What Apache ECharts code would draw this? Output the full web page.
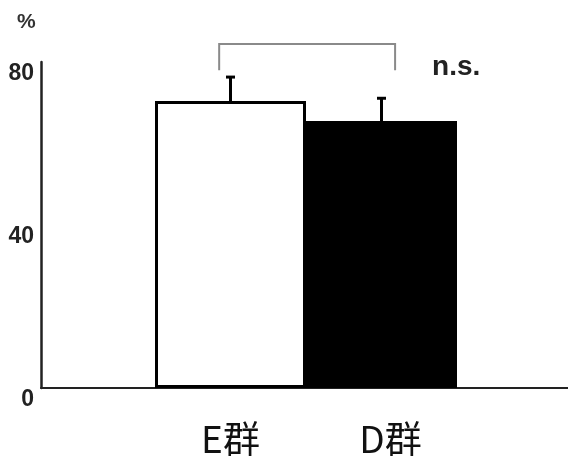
<!DOCTYPE html>
<html>
<head>
<meta charset="utf-8">
<style>
  html, body { margin: 0; padding: 0; background: #fff; }
  #chart { width: 568px; height: 466px; }
</style>
<script src="https://cdn.jsdelivr.net/npm/echarts@6/dist/echarts.min.js"></script>
</head>
<body>
<div id="chart"></div>
<script>
// Group labels and their mean values (%) with error (SD)
const categories = ['E群', 'D群'];
const means = [70.4, 65.5];
const errors = [5.9, 5.6];
const barFills = ['#ffffff', '#000000'];

// Y axis scale
const yMin = 0;
const yMax = 80;
const yInterval = 40;

// Significance bracket: top height and leg end height, with its label
const bracketTop = 84.4;
const bracketLegEnd = 78;
const sigText = 'n.s.';

const chart = echarts.init(document.getElementById('chart'), null, { renderer: 'canvas' });

const ink = '#111';
const latin = '"Liberation Sans", Arial, sans-serif';
const cjk = '"Noto Sans CJK JP", "Noto Sans CJK SC", sans-serif';

// per-label nudges for the category names
const labelPads = [[0, 0, 0, 0], [0, 0, 0, 18]];

const option = {
  backgroundColor: '#ffffff',
  animation: false,
  title: {
    text: '%',
    left: 12,
    top: 7,
    textStyle: { fontSize: 21, fontWeight: 'bold', color: '#333', fontFamily: latin }
  },
  grid: [
    // frame: y axis and full-width baseline
    { left: 41, right: 0, top: 62, bottom: 78 },
    // bar area
    { left: 155, right: 111, top: 62, bottom: 78 }
  ],
  xAxis: [
    {
      type: 'value', gridIndex: 0, min: 0, max: 1,
      axisLine: { show: true, lineStyle: { color: '#222', width: 2 } },
      axisTick: { show: false }, axisLabel: { show: false }, splitLine: { show: false }
    },
    {
      type: 'category', gridIndex: 1,
      data: categories.map((c, i) => ({ value: c, textStyle: { padding: labelPads[i] } })),
      axisLine: { show: false }, axisTick: { show: false }, splitLine: { show: false },
      axisLabel: { fontSize: 37, color: ink, fontFamily: cjk, margin: 32 }
    }
  ],
  yAxis: [
    {
      type: 'value', gridIndex: 0, min: yMin, max: yMax, interval: yInterval,
      axisLine: { show: true, lineStyle: { color: '#222', width: 2.5 } },
      axisTick: { show: false }, splitLine: { show: false },
      axisLabel: {
        fontSize: 23, fontWeight: 'bold', color: '#222', fontFamily: latin,
        margin: 7, verticalAlign: 'top', lineHeight: 23
      }
    },
    {
      type: 'value', gridIndex: 1, min: yMin, max: yMax, interval: yInterval, show: false
    }
  ],
  series: [
    {
      type: 'bar',
      xAxisIndex: 1, yAxisIndex: 1,
      barCategoryGap: '0%',
      data: means.map((v, i) => ({
        value: v,
        itemStyle: { color: barFills[i], borderColor: '#000', borderWidth: 3 }
      })),
      z: 2
    },
    {
      // error bars: stem from the bar top with a short cap
      type: 'custom',
      xAxisIndex: 1, yAxisIndex: 1,
      data: means.map((v, i) => [i, v, v + errors[i]]),
      z: 3,
      renderItem: function (params, api) {
        const base = api.coord([api.value(0), api.value(1)]);
        const top = api.coord([api.value(0), api.value(2)]);
        const capHalf = 4.5;
        const style = { stroke: '#000', lineWidth: 3 };
        return {
          type: 'group',
          children: [
            { type: 'line', shape: { x1: base[0], y1: base[1], x2: top[0], y2: top[1] }, style: style },
            { type: 'line', shape: { x1: top[0] - capHalf, y1: top[1], x2: top[0] + capHalf, y2: top[1] }, style: style }
          ]
        };
      }
    },
    {
      // comparison bracket between the two groups
      type: 'custom',
      xAxisIndex: 1, yAxisIndex: 1,
      data: [[0, 1, bracketTop, bracketLegEnd]],
      z: 3,
      renderItem: function (params, api) {
        const a = api.coord([api.value(0), api.value(2)]);
        const b = api.coord([api.value(1), api.value(2)]);
        const legY = api.coord([api.value(0), api.value(3)])[1];
        const band = api.size([1, 0])[0];
        const xL = a[0] - 0.075 * band;
        const xR = b[0] + 0.09 * band;
        return {
          type: 'group',
          children: [
            {
              type: 'polyline',
              shape: { points: [[xL, legY], [xL, a[1]], [xR, a[1]], [xR, legY]] },
              style: { stroke: '#8a8a8a', lineWidth: 2, fill: null }
            },
            {
              type: 'text',
              style: {
                text: sigText, x: xR + 37, y: legY - 3,
                align: 'left', verticalAlign: 'middle',
                fontSize: 28, fontWeight: 'bold', fill: '#222', fontFamily: latin
              }
            }
          ]
        };
      }
    }
  ]
};

chart.setOption(option);
</script>
</body>
</html>
